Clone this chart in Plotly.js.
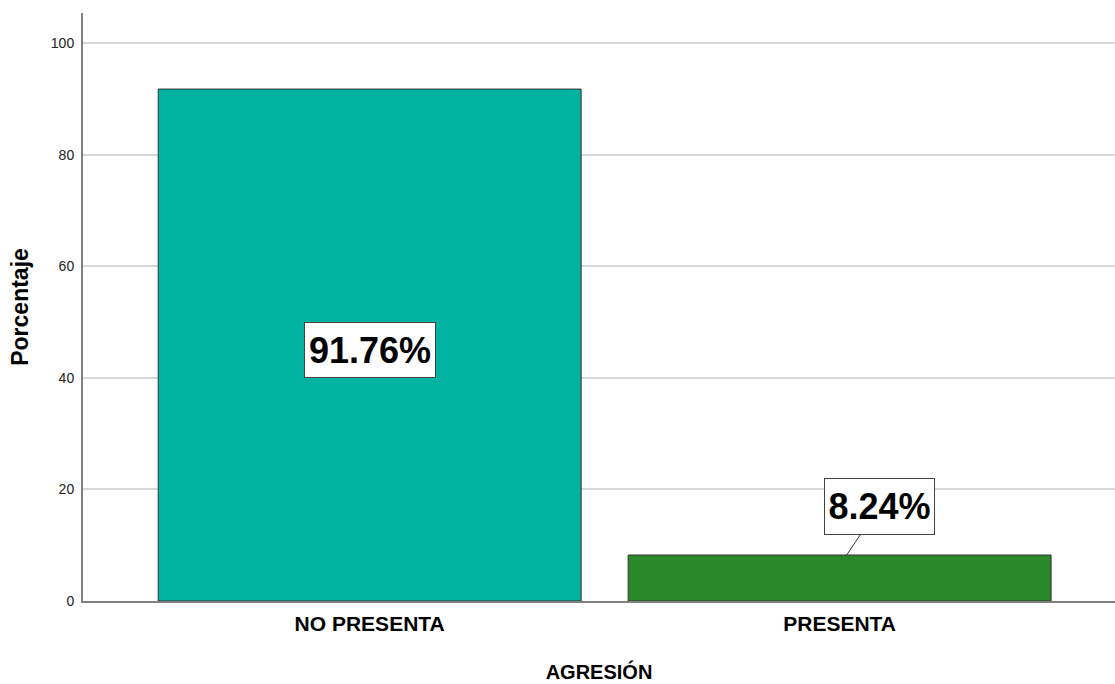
<!DOCTYPE html>
<html>
<head>
<meta charset="utf-8">
<script src="https://cdn.plot.ly/plotly-3.0.1.min.js"></script>
<style>html,body{margin:0;padding:0;background:#fff;}#chart{width:1115px;height:684px;}</style>
</head>
<body>
<div id="chart"></div>
<script>
const categories = ["NO PRESENTA", "PRESENTA"];
const percentages = [91.76, 8.24];
const labels = ["91.76%", "8.24%"];
const barColors = ["#00B3A0", "#2A882A"];

const trace = {
  type: "bar",
  x: categories,
  y: percentages,
  width: 0.9,
  marker: {color: barColors, line: {color: "#333333", width: 1}},
  hoverinfo: "none"
};

const annFont = {family: "Liberation Sans, Arial, sans-serif", size: 36, color: "#000"};
const annotations = [
  {x: categories[0], y: percentages[0] / 2, xref: "x", yref: "y", yshift: -5, text: "<b>" + labels[0] + "</b>",
   showarrow: false, font: annFont, bgcolor: "#fff", bordercolor: "#444", borderwidth: 1, borderpad: 3,
   width: 124, height: 48},
  {x: 1.015, y: percentages[1], xref: "x", yref: "y", text: "<b>" + labels[1] + "</b>",
   showarrow: true, arrowhead: 0, arrowwidth: 1, arrowcolor: "#333", ax: 33, ay: -49,
   font: annFont, bgcolor: "#fff", bordercolor: "#444", borderwidth: 1, borderpad: 3,
   width: 103, height: 49}
];

const layout = {
  width: 1115, height: 684,
  margin: {l: 83, r: 0, t: 13, b: 83},
  paper_bgcolor: "#fff", plot_bgcolor: "#fff",
  showlegend: false,
  font: {family: "Liberation Sans, Arial, sans-serif", color: "#000"},
  xaxis: {
    range: [-0.61, 1.586],
    showline: true, linecolor: "#808080", linewidth: 2,
    showgrid: false, zeroline: false, ticks: "",
    tickfont: {size: 21, family: "Liberation Sans, Arial, sans-serif"},
    ticktext: categories.map(c => "<b>" + c + "</b>"),
    tickvals: categories,
    ticklabelstandoff: 3,
    title: {text: "<b>AGRESIÓN</b>", font: {size: 20}, standoff: 31}
  },
  yaxis: {
    range: [0, 105.4],
    tickvals: [0, 20, 40, 60, 80, 100],
    showline: true, linecolor: "#808080", linewidth: 2,
    showgrid: true, gridcolor: "#d9d9d9", gridwidth: 2,
    zeroline: false, ticks: "",
    tickfont: {size: 14, color: "#222"},
    ticklabelstandoff: 4,
    title: {text: "<b>Porcentaje</b>", font: {size: 23}, standoff: 16}
  },
  annotations: annotations
};

Plotly.newPlot("chart", [trace], layout, {displayModeBar: false, staticPlot: true});
</script>
</body>
</html>
